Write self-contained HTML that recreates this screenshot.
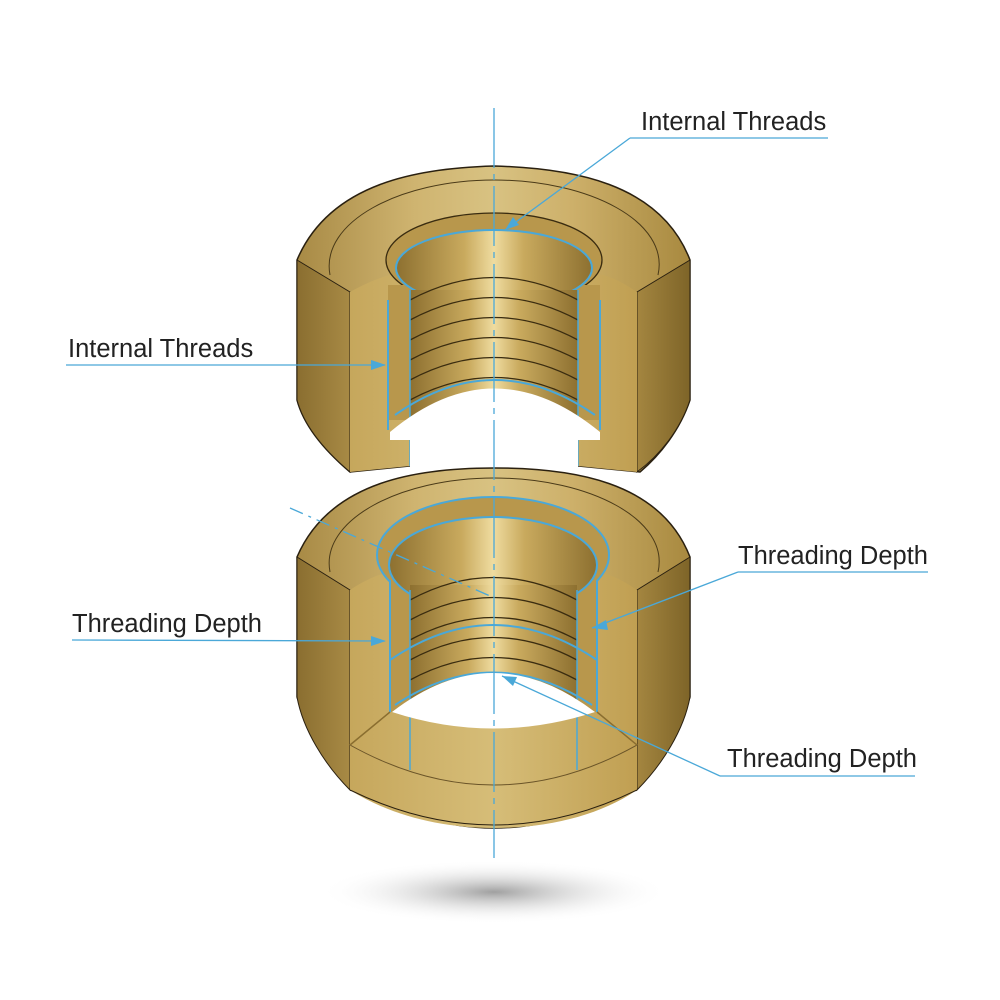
<!DOCTYPE html>
<html><head><style>html,body{margin:0;padding:0;background:#fff}svg{display:block}</style></head>
<body>
<svg width="1000" height="1000" viewBox="0 0 1000 1000" xmlns="http://www.w3.org/2000/svg" font-family="Liberation Sans, sans-serif">
<defs>
<radialGradient id="sh" cx="50%" cy="50%" r="50%"><stop offset="0" stop-color="#888" stop-opacity=".8"/><stop offset="1" stop-color="#fff" stop-opacity="0"/></radialGradient>
<linearGradient id="top" x1="0" y1="0" x2="1" y2="0"><stop offset="0" stop-color="#a88a45"/><stop offset=".3" stop-color="#cfb470"/><stop offset=".5" stop-color="#d8c282"/><stop offset=".7" stop-color="#cdb06a"/><stop offset="1" stop-color="#a8893f"/></linearGradient>
<linearGradient id="side" x1="0" y1="0" x2="1" y2="0"><stop offset="0" stop-color="#8a6e30"/><stop offset="1" stop-color="#a88a45"/></linearGradient>
<linearGradient id="sideR" x1="0" y1="0" x2="1" y2="0"><stop offset="0" stop-color="#a48640"/><stop offset="1" stop-color="#7e6428"/></linearGradient>
<linearGradient id="front" x1="0" y1="0" x2="1" y2="0"><stop offset="0" stop-color="#c6a75c"/><stop offset=".5" stop-color="#d6bd78"/><stop offset="1" stop-color="#c09f52"/></linearGradient>
<linearGradient id="thr" x1="0" y1="0" x2="1" y2="0"><stop offset="0" stop-color="#8d7030"/><stop offset=".35" stop-color="#c9aa5e"/><stop offset=".5" stop-color="#efdca0"/><stop offset=".65" stop-color="#c9aa5e"/><stop offset="1" stop-color="#8d7030"/></linearGradient>
</defs>
<ellipse cx="494" cy="892" rx="175" ry="32" fill="url(#sh)"/>

<!-- BOTTOM NUT -->
<path d="M297,557 C330,480 420,468 494,468 C570,468 660,480 690,557 L690,697 C670,760 600,828 494,828 C390,828 318,760 297,697 Z" fill="url(#top)" stroke="#2a2010" stroke-width="1.5"/>
<path d="M297,557 L350,590 L350,790 C325,765 303,730 297,697 Z" fill="url(#side)" stroke="#2a2010"/>
<path d="M690,557 L637,590 L637,790 C662,765 684,730 690,697 Z" fill="url(#sideR)" stroke="#2a2010"/>
<path d="M350,590 C380,570 400,570 410,570 L577,570 C600,570 615,575 637,590 L637,790 C600,815 550,828 494,828 C440,828 390,815 350,790 Z" fill="url(#front)"/>
<path d="M330,572 C320,520 400,478 494,478 C590,478 670,520 658,572" fill="none" stroke="#4a3a18" stroke-width="1"/>
<path d="M350,745 Q494,825 637,745" fill="none" stroke="#6a5428" stroke-width="1"/>
<path d="M350,790 Q494,860 637,790" fill="none" stroke="#2a2010" stroke-width="1"/>
<ellipse cx="493" cy="555" rx="116" ry="58" fill="#b8974c" stroke="#4aa8d8" stroke-width="2"/>
<rect x="390" y="580" width="207" height="132" fill="#b8974c"/>
<path d="M390,580 L390,712 M597,580 L597,712" stroke="#4aa8d8" stroke-width="2"/>
<ellipse cx="493" cy="565" rx="104" ry="48" fill="url(#thr)" stroke="#4aa8d8" stroke-width="2"/>
<rect x="410" y="585" width="167" height="125" fill="url(#thr)"/>
<g fill="none" stroke="#3a2c10" stroke-width="1.3">
<path d="M410,600 Q493,555 577,600"/><path d="M410,620 Q493,575 577,620"/><path d="M410,640 Q493,595 577,640"/><path d="M410,660 Q493,615 577,660"/><path d="M410,680 Q493,635 577,680"/><path d="M410,700 Q493,655 577,700"/>
</g>
<path d="M390,660 Q493,590 597,660" fill="none" stroke="#4aa8d8" stroke-width="2"/>
<path d="M395,705 Q493,640 592,705" fill="none" stroke="#4aa8d8" stroke-width="2"/>
<path d="M410,590 L410,770 M577,590 L577,770" stroke="#4aa8d8" stroke-width="1.5"/>
<path d="M392,712 Q493,634 595,712 Q493,745 392,712 Z" fill="#fff"/>
<path d="M390,712 L350,745 M597,712 L637,745" stroke="#8a6e30" stroke-width="1.5"/>

<!-- TOP NUT -->
<path d="M297,260 C330,182 420,168 494,166 C570,168 660,182 690,260 L690,400 C680,430 660,455 640,472 L578,466 L578,420 L410,420 L410,466 L350,472 C330,455 305,430 297,400 Z" fill="url(#top)" stroke="#2a2010" stroke-width="1.5"/>
<path d="M297,260 L350,292 L350,472 C330,455 305,430 297,400 Z" fill="url(#side)" stroke="#2a2010"/>
<path d="M690,260 L637,292 L637,472 C660,455 680,430 690,400 Z" fill="url(#sideR)" stroke="#2a2010"/>
<path d="M350,292 C380,275 400,272 410,272 L577,272 C600,272 615,277 637,292 L637,472 L578,466 L578,420 L410,420 L410,466 L350,472 Z" fill="url(#front)"/>
<path d="M330,275 C320,222 400,180 494,180 C590,180 670,222 658,275" fill="none" stroke="#4a3a18" stroke-width="1"/>
<ellipse cx="494" cy="260" rx="108" ry="47" fill="#b8974c" stroke="#3a2c10" stroke-width="1.3"/>
<rect x="388" y="285" width="212" height="135" fill="#b8974c"/>
<path d="M388,300 L388,430 M600,300 L600,430" stroke="#4aa8d8" stroke-width="2"/>
<ellipse cx="494" cy="268" rx="98" ry="38" fill="url(#thr)" stroke="#4aa8d8" stroke-width="2"/>
<rect x="410" y="290" width="168" height="130" fill="url(#thr)"/>
<g fill="none" stroke="#3a2c10" stroke-width="1.3">
<path d="M410,300 Q494,255 578,300"/><path d="M410,320 Q494,275 578,320"/><path d="M410,340 Q494,295 578,340"/><path d="M410,360 Q494,315 578,360"/><path d="M410,380 Q494,335 578,380"/><path d="M410,400 Q494,355 578,400"/>
</g>
<path d="M395,415 Q494,345 595,415" fill="none" stroke="#4aa8d8" stroke-width="2"/>
<path d="M410,290 L410,466 M578,290 L578,466" stroke="#4aa8d8" stroke-width="1.5"/>
<path d="M390,432 Q494,345 600,432 L600,440 L578,440 L578,467 Q494,462 410,467 L410,440 L390,440 Z" fill="#fff"/>

<!-- leaders -->
<g stroke="#4aa8d8" stroke-width="1.3" fill="none">
<line x1="494" y1="108" x2="494" y2="858" stroke-dasharray="60,6,6,6"/>
<line x1="630" y1="138" x2="828" y2="138"/><line x1="630" y1="138" x2="505" y2="230"/>
<line x1="66" y1="365" x2="385" y2="365"/>
<line x1="72" y1="640" x2="385" y2="641"/>
<line x1="738" y1="572" x2="928" y2="572"/><line x1="738" y1="572" x2="592" y2="628"/>
<line x1="720" y1="776" x2="915" y2="776"/><line x1="720" y1="776" x2="502" y2="676"/>
<line x1="290" y1="508" x2="490" y2="596" stroke-dasharray="14,6,3,6"/>
</g>
<g fill="#4aa8d8">
<polygon points="386,365 371,360 371,370"/>
<polygon points="386,641 371,636 371,646"/>
<polygon points="592,628 606,620 608,630"/>
<polygon points="502,676 517,677 513,686"/>
<polygon points="505,230 513,217 519,225"/>
</g>
<g font-size="25.5" fill="#222">
<text x="641" y="130">Internal Threads</text>
<text x="68" y="357">Internal Threads</text>
<text x="72" y="632">Threading Depth</text>
<text x="738" y="564">Threading Depth</text>
<text x="727" y="767">Threading Depth</text>
</g>
</svg>
</body></html>
